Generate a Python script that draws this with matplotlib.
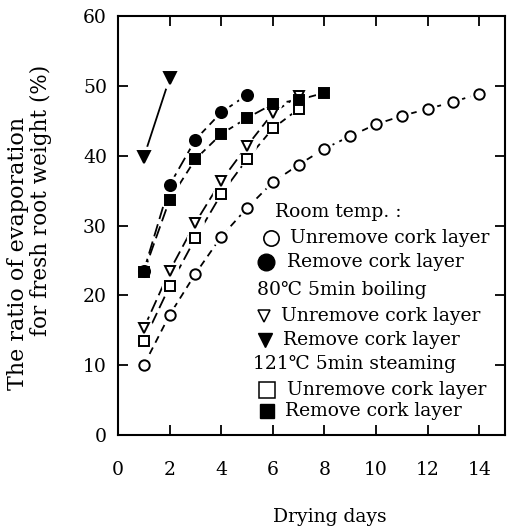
import matplotlib
matplotlib.use("Agg")
import matplotlib.pyplot as plt

plt.rcParams['font.family'] = ['DejaVu Serif', 'DejaVu Sans']

# drying days
days_room_un = [1, 2, 3, 4, 5, 6, 7, 8, 9, 10, 11, 12, 13, 14]
days_room_rm = [1, 2, 3, 4, 5]
days_boil_un = [1, 2, 3, 4, 5, 6, 7]
days_boil_rm = [1, 2]
days_steam_un = [1, 2, 3, 4, 5, 6, 7]
days_steam_rm = [1, 2, 3, 4, 5, 6, 7, 8]

# ratio of evaporation (%)
room_un = [10.0, 17.2, 23.1, 28.4, 32.5, 36.2, 38.7, 41.0, 42.8, 44.5, 45.7, 46.7, 47.7, 48.9]
room_rm = [23.5, 35.8, 42.3, 46.2, 48.7]
boil_un = [15.3, 23.5, 30.4, 36.4, 41.4, 46.1, 48.6]
boil_rm = [39.8, 51.1]
steam_un = [13.5, 21.3, 28.2, 34.5, 39.5, 43.9, 46.7]
steam_rm = [23.3, 33.7, 39.5, 43.1, 45.4, 47.4, 48.0, 49.0]

xticks = [0, 2, 4, 6, 8, 10, 12, 14]
yticks = [0, 10, 20, 30, 40, 50, 60]

fig = plt.figure(figsize=(5.12, 5.29), dpi=100)
ax = fig.add_axes([0.2305, 0.1777, 0.756, 0.792])

series = [
    (days_room_un, room_un, 'o', 'white', 7.5, (0, (4, 3)), 5),
    (days_room_rm, room_rm, 'o', 'black', 8, (0, (7, 3)), 5),
    (days_boil_un, boil_un, 'v', 'white', 7.5, (0, (7, 3)), 5),
    (days_boil_rm, boil_rm, 'v', 'black', 8, '-', 7),
    (days_steam_un, steam_un, 's', 'white', 6.5, (0, (7, 3)), 5),
    (days_steam_rm, steam_rm, 's', 'black', 6.5, (0, (7, 3)), 5),
]

for x, y, m, fc, ms, ls, halo in series:
    ax.plot(x, y, color='black', lw=1.3, linestyle=ls, zorder=1)
    ax.plot(x, y, linestyle='none', marker='o', ms=ms + halo, mfc='white',
            mec='white', zorder=2)
for x, y, m, fc, ms, ls, halo in series:
    ax.plot(x, y, linestyle='none', marker=m, ms=ms, mfc=fc,
            mec='black', mew=1.4, zorder=3)

ax.set_xlim(0, 15)
ax.set_ylim(0, 60)
ax.set_xticks(xticks)
ax.set_yticks(yticks)
ax.tick_params(direction='in', length=7, width=1.3, top=True, right=True,
               labelsize=13.5)
ax.tick_params(axis='x', pad=19)
ax.tick_params(axis='y', pad=8)
for s in ax.spines.values():
    s.set_linewidth(1.5)

# legend drawn by hand
fs = 13.5
ax.text(0.406, 0.532, 'Room temp. :', transform=ax.transAxes, fontsize=fs, va='center')
ax.plot([0.395], [0.470], 'o', ms=11, mfc='white', mec='black', mew=1.2, transform=ax.transAxes, clip_on=False)
ax.text(0.444, 0.470, 'Unremove cork layer', transform=ax.transAxes, fontsize=fs, va='center')
ax.plot([0.383], [0.413], 'o', ms=12, mfc='black', mec='black', transform=ax.transAxes, clip_on=False)
ax.text(0.437, 0.413, 'Remove cork layer', transform=ax.transAxes, fontsize=fs, va='center')
ax.text(0.360, 0.346, '80\u2103 5min boiling', transform=ax.transAxes, fontsize=fs, va='center')
ax.plot([0.378], [0.284], 'v', ms=9, mfc='white', mec='black', mew=1.1, transform=ax.transAxes, clip_on=False)
ax.text(0.421, 0.284, 'Unremove cork layer', transform=ax.transAxes, fontsize=fs, va='center')
ax.plot([0.380], [0.227], 'v', ms=10, mfc='black', mec='black', transform=ax.transAxes, clip_on=False)
ax.text(0.426, 0.227, 'Remove cork layer', transform=ax.transAxes, fontsize=fs, va='center')
ax.text(0.349, 0.169, '121\u2103 5min steaming', transform=ax.transAxes, fontsize=fs, va='center')
ax.plot([0.385], [0.107], 's', ms=11, mfc='white', mec='black', mew=1.1, transform=ax.transAxes, clip_on=False)
ax.text(0.437, 0.107, 'Unremove cork layer', transform=ax.transAxes, fontsize=fs, va='center')
ax.plot([0.385], [0.057], 's', ms=10, mfc='black', mec='black', transform=ax.transAxes, clip_on=False)
ax.text(0.432, 0.057, 'Remove cork layer', transform=ax.transAxes, fontsize=fs, va='center')

fig.text(18 / 512, 1 - 253 / 529, 'The ratio of evaporation', rotation=90,
         ha='center', va='center', fontsize=16)
fig.text(41 / 512, 1 - 200 / 529, 'for fresh root weight (%)', rotation=90,
         ha='center', va='center', fontsize=15.5)
fig.text(330 / 512, 1 - 517 / 529, 'Drying days', ha='center', va='center',
         fontsize=13.5)

fig.savefig('out.png', dpi=100)
